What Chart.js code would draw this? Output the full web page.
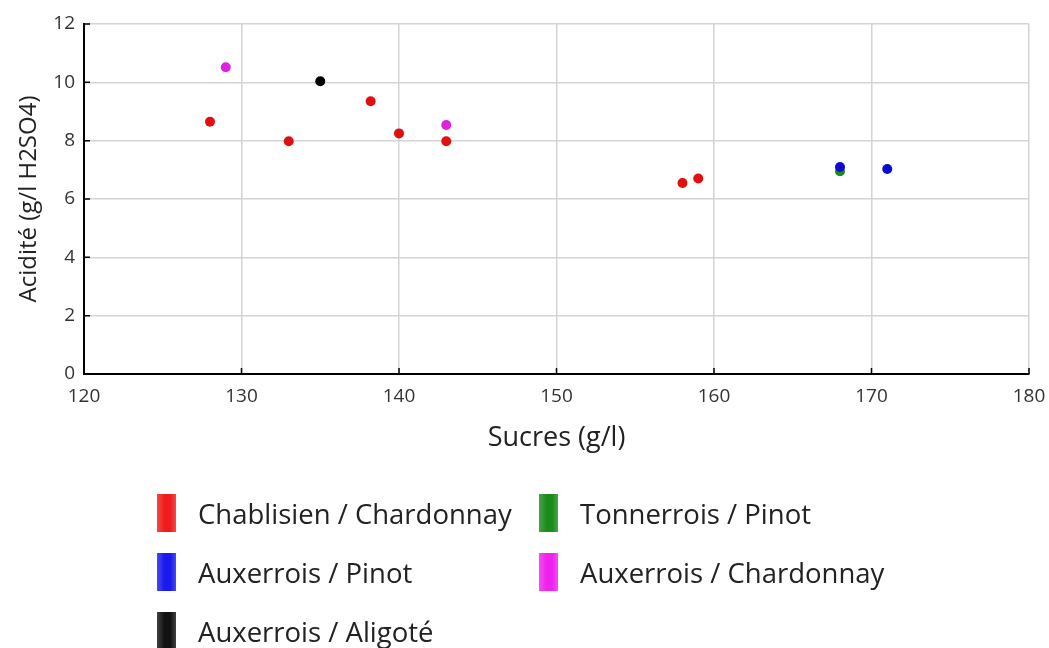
<!DOCTYPE html>
<html>
<head>
<meta charset="utf-8">
<script src="https://cdn.jsdelivr.net/npm/chart.js@4/dist/chart.umd.min.js"></script>
<style>
  body { margin: 0; background: #fff; }
  #wrap { position: relative; width: 1049px; height: 648px; }
  #legend {
    position: absolute; left: 157px; top: 493px;
    display: grid; grid-template-columns: 382px auto; row-gap: 19px;
    font-family: 'Open Sans', sans-serif; font-size: 27.5px; color: #222;
  }
  .item { display: flex; align-items: center; height: 40px; white-space: nowrap; }
  .swatch { width: 19px; height: 38px; margin-right: 22px; }
</style>
</head>
<body>
<div id="wrap">
  <canvas id="scatter" width="1049" height="648"></canvas>
  <div id="legend"></div>
</div>
<script>
const seriesNames = ['Chablisien / Chardonnay', 'Tonnerrois / Pinot', 'Auxerrois / Pinot', 'Auxerrois / Chardonnay', 'Auxerrois / Aligoté'];
const pointColors = ['#e01010', '#1a8a1a', '#0a0ad0', '#e020e0', '#000000'];
const swatchColors = ['#f01c1c', '#1a8c1a', '#1a1aee', '#ee22ee', '#111111'];

const chablisX = [128, 133, 138.2, 140, 143, 158, 159];
const chablisY = [8.65, 7.98, 9.35, 8.25, 7.98, 6.55, 6.7];
const tonnerPinotX = [168];
const tonnerPinotY = [6.95];
const auxPinotX = [168, 171];
const auxPinotY = [7.1, 7.03];
const auxChardX = [129, 143];
const auxChardY = [10.52, 8.54];
const auxAligX = [135];
const auxAligY = [10.04];

const xTicks = [120, 130, 140, 150, 160, 170, 180];
const yTicks = [0, 2, 4, 6, 8, 10, 12];

const seriesX = [chablisX, tonnerPinotX, auxPinotX, auxChardX, auxAligX];
const seriesY = [chablisY, tonnerPinotY, auxPinotY, auxChardY, auxAligY];
// blue has to sit on top of the green point at 168
const drawOrder = [1, 3, 0, 1, 1];

const toPoints = (xs, ys) => xs.map((v, i) => ({ x: v, y: ys[i] }));

// short black ticks pointing into the plot
const innerTicks = {
  id: 'innerTicks',
  afterDraw(chart) {
    const { ctx, chartArea, scales: { x, y } } = chart;
    ctx.save();
    ctx.strokeStyle = '#000';
    ctx.lineWidth = 1.5;
    ctx.beginPath();
    x.ticks.forEach((t, i) => {
      const px = x.getPixelForTick(i);
      ctx.moveTo(px, chartArea.bottom);
      ctx.lineTo(px, chartArea.bottom - 6);
    });
    y.ticks.forEach((t, i) => {
      const py = y.getPixelForTick(i);
      ctx.moveTo(chartArea.left, py);
      ctx.lineTo(chartArea.left + 6, py);
    });
    ctx.stroke();
    ctx.restore();
  }
};

const ctx = document.getElementById('scatter').getContext('2d');
const chart = new Chart(ctx, {
  type: 'scatter',
  data: {
    datasets: seriesNames.map((name, i) => ({
      label: name,
      data: toPoints(seriesX[i], seriesY[i]),
      backgroundColor: pointColors[i],
      borderWidth: 0,
      pointRadius: 5,
      order: drawOrder[i],
    })),
  },
  options: {
    responsive: false,
    animation: false,
    layout: { padding: { top: 24, right: 20, bottom: 193, left: 0 } },
    plugins: {
      legend: { display: false },
      tooltip: { enabled: false },
    },
    scales: {
      x: {
        type: 'linear',
        min: 120, max: 180,
        afterBuildTicks: (s) => { s.ticks = xTicks.map(v => ({ value: v })); },
        afterFit: (s) => { s.height = 81; s.paddingLeft = 0; s.paddingRight = 0; },
        grid: { color: '#d4d4d4', lineWidth: 1.5, drawTicks: false },
        border: { color: '#000', width: 2 },
        ticks: { padding: 11, color: '#333', font: { family: 'Open Sans', size: 19 } },
        title: {
          display: true, text: 'Sucres (g/l)', color: '#222',
          font: { family: 'Open Sans', size: 27 }, padding: { top: 4, bottom: 0 },
        },
      },
      y: {
        type: 'linear',
        min: 0, max: 12,
        afterBuildTicks: (s) => { s.ticks = yTicks.map(v => ({ value: v })); },
        afterFit: (s) => { s.width = 84; },
        grid: { color: '#d4d4d4', lineWidth: 1.5, drawTicks: false },
        border: { color: '#000', width: 2 },
        ticks: { padding: 9, color: '#333', font: { family: 'Open Sans', size: 19 } },
        title: {
          display: true, text: 'Acidité (g/l H2SO4)', color: '#222',
          font: { family: 'Open Sans', size: 24 }, padding: { top: 15, bottom: 4 },
        },
      },
    },
  },
  plugins: [innerTicks],
});

// two-column legend under the plot, built from the chart's datasets
const legendEl = document.getElementById('legend');
chart.data.datasets.forEach((ds, i) => {
  const item = document.createElement('div');
  item.className = 'item';
  const sw = document.createElement('span');
  sw.className = 'swatch';
  sw.style.background = `linear-gradient(90deg, ${swatchColors[i]}cc, ${swatchColors[i]} 40%, ${swatchColors[i]} 70%, ${swatchColors[i]}cc)`;
  const label = document.createElement('span');
  label.textContent = ds.label;
  item.appendChild(sw);
  item.appendChild(label);
  legendEl.appendChild(item);
});
</script>
</body>
</html>
